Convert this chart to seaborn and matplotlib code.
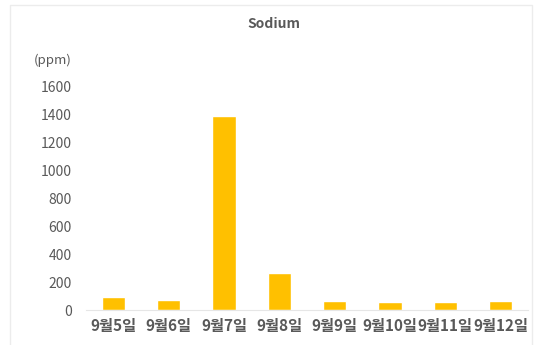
import matplotlib
matplotlib.use("Agg")
import matplotlib.pyplot as plt
from matplotlib.patches import Rectangle
import seaborn as sns
import pandas as pd

# Daily sodium readings (ppm)
dates = ["9월5일", "9월6일", "9월7일", "9월8일", "9월9일", "9월10일", "9월11일", "9월12일"]
sodium_ppm = [93, 69, 1392, 264, 64, 57, 57, 64]
y_ticks = [0, 200, 400, 600, 800, 1000, 1200, 1400, 1600]

sns.set_theme(style="white")
plt.rcParams["font.family"] = ["Noto Sans CJK KR", "DejaVu Sans"]

gray = "#595959"
df = pd.DataFrame({"date": dates, "ppm": sodium_ppm})

fig = plt.figure(figsize=(5.38, 3.45), dpi=100)
ax = fig.add_axes([0.159, 0.1014, 0.823, 0.647])

sns.barplot(data=df, x="date", y="ppm", color="#FFC000", saturation=1,
            width=0.42, ax=ax)

ax.set_ylim(0, 1600)
ax.set_yticks(y_ticks)
ax.set_xlim(-0.5, len(dates) - 0.5)
ax.set_xlabel("")
ax.set_ylabel("")
for s in ["top", "right", "left"]:
    ax.spines[s].set_visible(False)
ax.spines["bottom"].set_color("#e6e6e6")
ax.spines["bottom"].set_linewidth(0.8)
ax.tick_params(axis="both", length=0, colors=gray)
ax.tick_params(axis="y", labelsize=10, pad=10)
ax.tick_params(axis="x", labelsize=11, pad=6)
for lbl in ax.get_xticklabels():
    lbl.set_fontweight("bold")

fig.text(0.51, 0.93, "Sodium", ha="center", va="center",
         fontsize=10, fontweight="bold", color=gray)
fig.text(0.134, 0.826, "(ppm)", ha="right", va="center",
         fontsize=9.5, color=gray)

# light frame around the chart
fig.patches.append(Rectangle((10 / 538, -0.05), 522 / 538, 1.05 - 5 / 345,
                             transform=fig.transFigure, fill=False,
                             edgecolor="#ececec", linewidth=1))

fig.savefig("out.png", dpi=100)
